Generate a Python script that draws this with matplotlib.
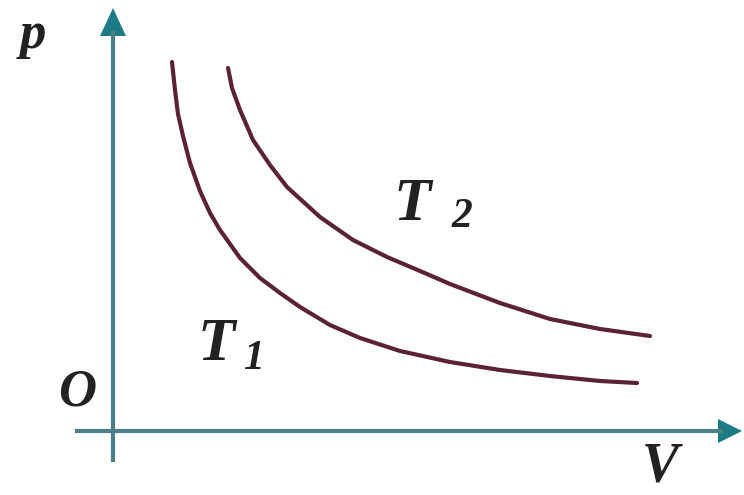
import matplotlib
matplotlib.use("Agg")
import matplotlib.pyplot as plt

# isotherm T1 (lower); origin at the axes corner
t1_v = [59, 62, 65, 70, 77, 87, 97, 107, 127, 147, 167, 187, 217, 247, 287, 337, 387, 437, 487, 524]
t1_p = [369, 341, 317, 295, 268, 240, 218, 201, 173, 153, 138, 124, 106, 93, 80, 69, 61, 55, 50, 48]

# isotherm T2 (upper)
t2_v = [115, 119, 127, 140, 157, 174, 207, 240, 274, 307, 337, 387, 437, 487, 537]
t2_p = [363, 343, 321, 291, 266, 244, 214, 191, 174, 160, 147, 128, 112, 102, 95]

labels = {"p": (-80, 396), "O": (-36, 39), "V": (547, -37)}

AXIS = "#4f7f86"
HEAD = "#1d7b86"
CURVE = "#5b2236"

fig = plt.figure(figsize=(7.44, 4.95), dpi=100)
ax = fig.add_axes([0, 0, 1, 1])
ax.set_xlim(-113, 631)
ax.set_ylim(-64, 431)
ax.axis("off")

# axes with arrow heads
ax.plot([0, 0], [-31, 400], color=AXIS, lw=3, solid_capstyle="butt")
ax.plot([-38, 610], [0, 0], color=AXIS, lw=3, solid_capstyle="butt")
ax.fill([-13, 13, 0], [395, 395, 423], color=HEAD, lw=0)
ax.fill([605, 605, 629], [-12, 12, 0], color=HEAD, lw=0)

ax.plot(t1_v, t1_p, color=CURVE, lw=3, solid_capstyle="round", solid_joinstyle="round")
ax.plot(t2_v, t2_p, color=CURVE, lw=3, solid_capstyle="round", solid_joinstyle="round")

font = dict(family="Liberation Serif", style="italic", weight="bold", color="#222222")
for text, (x, y) in labels.items():
    size = 40 if text == "V" else 38
    ax.text(x, y, text, fontsize=size, ha="center", va="center", **font)

ax.text(299, 226, "T", fontsize=44, ha="center", va="center", **font)
ax.text(349, 214, "2", fontsize=30, ha="center", va="center", **font)
ax.text(103, 86, "T", fontsize=44, ha="center", va="center", **font)
ax.text(140, 72, "1", fontsize=30, ha="center", va="center", **font)

fig.savefig("out.png", dpi=100)
